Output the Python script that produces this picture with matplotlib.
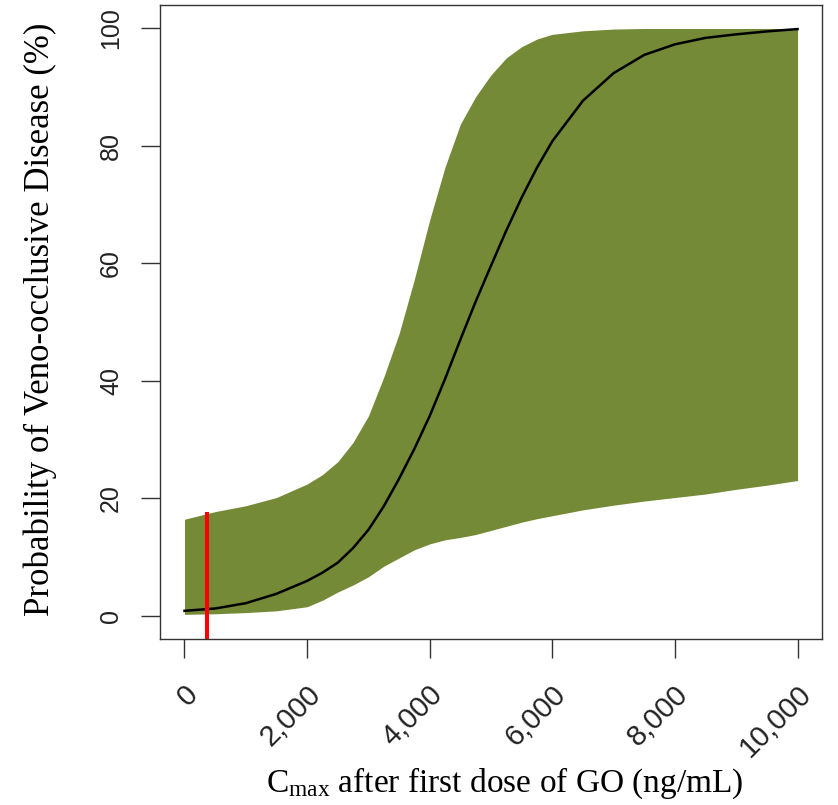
import matplotlib
matplotlib.use("Agg")
import matplotlib.pyplot as plt
import matplotlib.transforms as mtransforms

# ── data ──
cmax = [0, 500, 1000, 1500, 2000, 2250, 2500, 2750, 3000, 3250, 3500, 3750, 4000,
        4250, 4500, 4750, 5000, 5250, 5500, 5750, 6000, 6500, 7000, 7500,
        8000, 8500, 9000, 9500, 10000]
prob_mid = [0.8, 1.2, 2.1, 3.7, 5.9, 7.3, 9.0, 11.5, 14.6, 18.6, 23.3, 28.4, 34.0,
            40.3, 47.0, 53.5, 59.6, 65.6, 71.2, 76.3, 80.8, 87.7, 92.4, 95.5,
            97.3, 98.4, 99.0, 99.5, 99.9]
prob_upper = [16.4, 17.7, 18.7, 20.1, 22.4, 24.0, 26.2, 29.5, 34.0, 40.6, 48.0, 57.3, 67.4,
              76.4, 83.7, 88.4, 92.1, 95.0, 96.9, 98.2, 99.0, 99.6, 99.9, 100.0,
              100.0, 100.0, 100.0, 100.0, 100.0]
prob_lower = [0.2, 0.3, 0.5, 0.8, 1.5, 2.6, 4.0, 5.2, 6.6, 8.4, 9.8, 11.2, 12.2,
              12.9, 13.3, 13.8, 14.5, 15.2, 15.9, 16.5, 17.0, 18.0, 18.8, 19.5,
              20.1, 20.7, 21.5, 22.2, 23.0]

ref_cmax = 365       # red reference line
ref_top = 17.6

x_ticks = [0, 2000, 4000, 6000, 8000, 10000]
x_ticklabels = ["0", "2,000", "4,000", "6,000", "8,000", "10,000"]
y_ticks = [0, 20, 40, 60, 80, 100]

plt.rcParams["mathtext.fontset"] = "custom"
plt.rcParams["mathtext.rm"] = "Liberation Serif"
plt.rcParams["mathtext.it"] = "Liberation Serif:italic"

fig = plt.figure(figsize=(8.38, 8.05), dpi=100)
ax = fig.add_axes([0.1909, 0.2062, 0.7901, 0.7876])

ax.fill_between(cmax, prob_lower, prob_upper, color="#748a36", linewidth=0)
ax.plot(cmax, prob_mid, color="black", linewidth=1.8)
ax.vlines(ref_cmax, -4, ref_top, color="red", linewidth=2.9)

ax.set_xlim(-400, 10400)
ax.set_ylim(-4, 104)

for s in ax.spines.values():
    s.set_color("#333333")
    s.set_linewidth(1.0)

ax.set_yticks(y_ticks)
ax.set_yticklabels([str(v) for v in y_ticks], rotation=90, va="center",
                   family="Liberation Sans", fontsize=18)
ax.set_xticks(x_ticks)
ax.set_xticklabels(x_ticklabels, rotation=45, ha="right", va="center",
                   rotation_mode="anchor", family="Liberation Sans", fontsize=21)
ax.tick_params(axis="both", direction="out", length=13.5, width=1.0,
               color="#333333", labelcolor="#222222")
ax.tick_params(axis="y", pad=13)
ax.tick_params(axis="x", pad=23)

shift = mtransforms.ScaledTranslation(0.09, 0, fig.dpi_scale_trans)
for lab in ax.get_xticklabels():
    lab.set_transform(lab.get_transform() + shift)

ax.set_xlabel(r"C$_{\mathrm{max}}$ after first dose of GO (ng/mL)",
              family="Liberation Serif", fontsize=24)
ax.xaxis.set_label_coords(0.52, -0.2)
ax.set_ylabel("Probability of Veno-occlusive Disease (%)",
              family="Liberation Serif", fontsize=25)
ax.yaxis.set_label_coords(-0.155, 0.505)

fig.savefig("out.png", dpi=100)
